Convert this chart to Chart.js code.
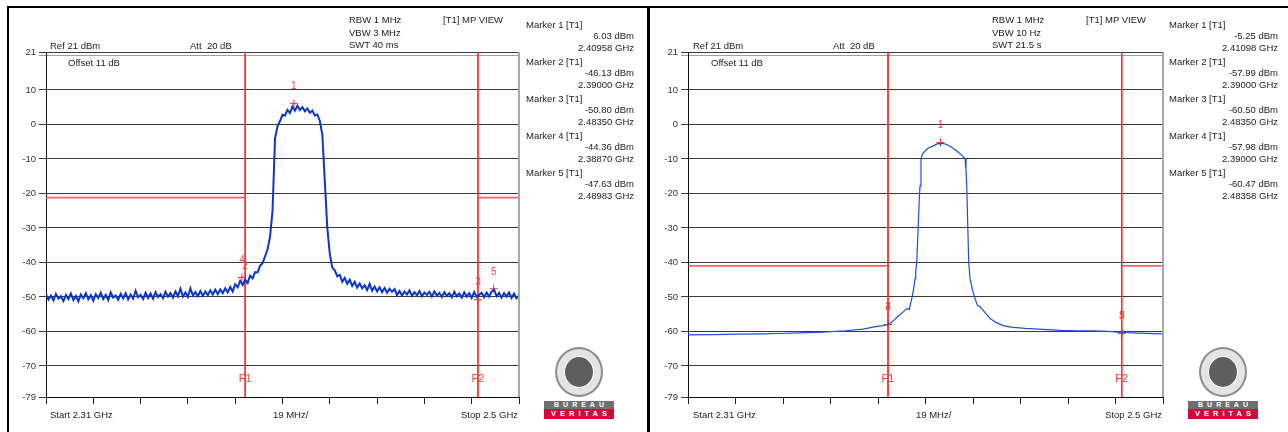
<!DOCTYPE html>
<html>
<head>
<meta charset="utf-8">
<script src="https://cdn.jsdelivr.net/npm/chart.js@4.4.1/dist/chart.umd.min.js"></script>
<style>
  html, body { margin: 0; padding: 0; background: #fff; }
  body { width: 1288px; height: 432px; position: relative; overflow: hidden;
         font-family: "Liberation Sans", Arial, sans-serif; font-size: 9.5px; color: #222; }
  .t { position: absolute; white-space: nowrap; line-height: 12px; }
  canvas { position: absolute; top: 0; }
  .fv { position: absolute; top: 6px; bottom: 0; background: #000; }
  .fh { position: absolute; top: 6px; height: 2px; left: 7px; right: 0; background: #000; }
  .seal { position: absolute; width: 44px; height: 46px; border-radius: 50%; border: 2px solid #8c8c8c; background: #e4e4e4; }
  .seal div { position: absolute; left: 7px; top: 7px; width: 28px; height: 30px; border-radius: 50%; background: #5e5e5e; border: 1px solid #fff; }
  .bar { position: absolute; width: 70px; color: #fff; font-weight: bold; text-align: center; letter-spacing: 4px; text-indent: 4px; }
  .b1 { height: 8px; line-height: 8px; font-size: 7px; background: #6f6f6f; }
  .b2 { height: 10px; line-height: 10px; font-size: 7.5px; background: #d10a3c; }
</style>
</head>
<body>
<div class="fh"></div>
<div class="fv" style="left:7px;width:2px"></div>
<div class="fv" style="left:647px;width:3px"></div>

<canvas id="spec-left" width="640" height="432" style="left:0"></canvas>
<canvas id="spec-right" width="646" height="432" style="left:642px"></canvas>

<div id="texts"></div>

<script>
const START = 2310, STOP = 2500, F1 = 2390, F2 = 2483.5

const xTicks = [2310, 2329, 2348, 2367, 2386, 2405, 2424, 2443, 2462, 2481, 2500]
const yTicks = [21, 20, 10, 0, -10, -20, -30, -40, -50, -60, -70, -79]

// left sweep: max-hold trace, one value per MHz from 2310 to 2500
const leftLevel = [
  -49.2, -50.8, -49.6, -51.0, -49.1, -50.5, -49.8, -51.2, -49.4, -50.6,
  -49.0, -50.9, -49.7, -51.3, -49.3, -50.4, -48.9, -50.7, -49.5, -51.1,
  -49.2, -50.3, -48.8, -50.6, -49.4, -50.9, -48.7, -50.2, -49.6, -50.8,
  -49.1, -50.4, -48.9, -50.7, -49.3, -50.5, -48.2, -50.1, -49.4, -50.6,
  -48.8, -50.3, -49.0, -50.5, -48.6, -50.0, -49.2, -50.4, -48.5, -49.9,
  -48.9, -50.2, -48.4, -49.8, -47.6, -49.9, -48.7, -50.0, -47.5, -49.6,
  -48.6, -49.8, -48.3, -49.7, -48.4, -49.5, -48.1, -49.3, -47.9, -49.2,
  -47.8, -48.9, -47.5, -48.7, -47.1, -48.4, -46.3, -47.2, -45.3, -46.5,
  -45.0, -45.9, -43.8, -44.6, -42.8, -42.9, -41.0, -40.2, -38.2, -36.2,
  -32.5, -25.0, -4.0, -0.5, 1.0, 2.8, 2.6, 4.2, 3.3, 5.2,
  4.0, 5.4, 4.2, 5.0, 3.8, 4.6, 3.4, 4.0, 2.6, 2.9,
  1.0, -3.0, -16.5, -30.0, -37.5, -41.5, -42.3, -44.0, -43.6, -45.6,
  -44.5, -46.2, -45.0, -46.8, -45.6, -47.3, -46.1, -47.5, -46.6, -48.0,
  -46.2, -48.2, -47.0, -48.4, -47.2, -48.6, -47.4, -48.8, -47.6, -48.5,
  -47.7, -49.5, -48.3, -49.6, -48.4, -49.3, -48.1, -49.7, -48.6, -49.5,
  -48.3, -49.8, -48.7, -49.4, -48.5, -49.9, -48.4, -49.6, -48.8, -50.0,
  -48.6, -49.7, -48.9, -50.1, -48.5, -49.8, -49.0, -50.2, -48.7, -49.9,
  -48.9, -50.3, -48.6, -50.0, -49.4, -48.8, -50.1, -48.7, -49.9, -48.4,
  -47.9, -49.8, -48.8, -50.2, -48.9, -49.9, -48.7, -50.3, -49.0, -50.4, -49.6
]
const leftFreq = leftLevel.map((_, i) => START + i)

// right sweep: averaged trace (VBW 10 Hz)
const rightFreq = [
  2310, 2320, 2330, 2340, 2346, 2355, 2364, 2373, 2380, 2385,
  2388, 2390, 2392, 2394, 2396, 2397.5, 2398.5, 2399.5, 2400.3, 2400.8,
  2401.1, 2401.5, 2402.1, 2402.5, 2402.8, 2403.2, 2403.8, 2404.8, 2406, 2408.1,
  2409.5, 2410.5, 2411, 2411.5, 2413.5, 2415.5, 2417.5, 2419.5, 2420.8, 2421.2,
  2421.5, 2421.9, 2422.3, 2422.8, 2423.8, 2424.8, 2425.8, 2426.8, 2428, 2430.8,
  2433, 2436, 2440, 2445, 2452, 2459, 2466, 2472, 2478, 2483.4,
  2490, 2500
]
const rightLevel = [
  -61.0, -60.9, -60.8, -60.7, -60.6, -60.4, -60.2, -59.8, -59.3, -58.6,
  -58.3, -58.0, -57.0, -55.6, -54.4, -53.3, -53.6, -50.5, -47.5, -44.7,
  -42.5, -40.0, -29.3, -22.0, -17.8, -10.0, -8.6, -7.7, -6.9, -6.2,
  -5.7, -5.4, -5.9, -5.4, -5.8, -6.6, -7.7, -8.9, -9.9, -13.0,
  -17.8, -29.3, -40.0, -44.7, -48.0, -50.4, -52.5, -52.8, -53.8, -56.2,
  -57.3, -58.3, -58.8, -59.1, -59.4, -59.7, -59.8, -59.8, -60.0, -60.3,
  -60.5, -60.7
]

const leftMarkerFreq  = [2409.58, 2390.00, 2483.50, 2388.70, 2489.83]
const leftMarkerLevel = [6.03, -46.13, -50.80, -44.36, -47.63]
const rightMarkerFreq  = [2410.98, 2390.00, 2483.50, 2390.00, 2483.58]
const rightMarkerLevel = [-5.25, -57.99, -60.50, -57.98, -60.47]

const leftLimit = -21.2
const rightLimit = -41

Chart.defaults.font.family = '"Liberation Sans", Arial, sans-serif'
Chart.defaults.font.size = 9.5

const RED = '#ff2a2a'
const LIMIT = 'rgba(255,70,70,0.85)'

// marker numbers, F1/F2 tags and right frame edge
const annot = {
  id: 'annot',
  afterDatasetsDraw(chart, args, opts) {
    const { ctx, chartArea: a, scales: { x, y } } = chart
    ctx.save()
    ctx.strokeStyle = '#a8a8a8'
    ctx.lineWidth = 2
    ctx.beginPath()
    ctx.moveTo(a.right, a.top)
    ctx.lineTo(a.right, a.bottom)
    ctx.stroke()
    ctx.fillStyle = '#ff3b3b'
    ctx.textAlign = 'center'
    ctx.textBaseline = 'middle'
    ctx.font = '10px "Liberation Sans", Arial'
    opts.freq.forEach((f, i) => {
      ctx.fillText(String(i + 1), x.getPixelForValue(f), y.getPixelForValue(opts.level[i]) - 17)
    })
    ctx.font = '11px "Liberation Sans", Arial'
    ctx.fillText('F1', x.getPixelForValue(F1), a.bottom - 18)
    ctx.fillText('F2', x.getPixelForValue(F2), a.bottom - 18)
    ctx.restore()
  }
}

function line(points, color, width) {
  return { data: points, borderColor: color, borderWidth: width, pointRadius: 0, tension: 0, fill: false }
}

function spectrum(id, o) {
  const trace = o.freq.map((f, i) => ({ x: f, y: o.level[i] }))
  const markers = o.mFreq.map((f, i) => ({ x: f, y: o.mLevel[i] }))
  return new Chart(document.getElementById(id), {
    type: 'line',
    data: {
      datasets: [
        line(trace, o.color, o.width),
        line([{ x: START, y: o.limit }, { x: F1, y: o.limit }], LIMIT, 1.6),
        line([{ x: F2, y: o.limit }, { x: STOP, y: o.limit }], LIMIT, 1.6),
        line([{ x: F1, y: 21 }, { x: F1, y: -79 }], RED, 1),
        line([{ x: F2, y: 21 }, { x: F2, y: -79 }], RED, 1),
        { data: markers, showLine: false, pointStyle: 'cross', pointRadius: 4, borderColor: RED, borderWidth: 1 }
      ]
    },
    options: {
      responsive: false, animation: false,
      layout: { padding: { left: 0, right: o.padRight, top: 52, bottom: 0 } },
      plugins: {
        legend: { display: false }, tooltip: { enabled: false },
        annot: { freq: o.mFreq, level: o.mLevel }
      },
      scales: {
        x: {
          type: 'linear', min: START, max: STOP,
          afterBuildTicks: s => { s.ticks = xTicks.map(v => ({ value: v })) },
          afterFit: s => { s.height = 35 },
          grid: { drawOnChartArea: false, tickLength: 7, color: '#222' },
          border: { color: '#111' },
          ticks: { callback: () => '', autoSkip: false }
        },
        y: {
          min: -79, max: 21,
          afterBuildTicks: s => { s.ticks = yTicks.map(v => ({ value: v })) },
          afterFit: s => { s.width = 46 },
          grid: { color: c => (c.tick && c.tick.value === 20) ? '#a0a0a0' : '#3a3a3a', tickLength: 7 },
          border: { color: '#111' },
          ticks: { autoSkip: false, padding: 3, color: '#333', callback: v => v === 20 ? '' : String(v) }
        }
      }
    },
    plugins: [annot]
  })
}

spectrum('spec-left', {
  freq: leftFreq, level: leftLevel, color: '#0b36c8', width: 2,
  limit: leftLimit, mFreq: leftMarkerFreq, mLevel: leftMarkerLevel, padRight: 121
})
spectrum('spec-right', {
  freq: rightFreq, level: rightLevel, color: '#1f4fd6', width: 1.2,
  limit: rightLimit, mFreq: rightMarkerFreq, mLevel: rightMarkerLevel, padRight: 125
})

function t(x, y, s, right) {
  return right
    ? `<div class="t" style="right:${1288 - x}px;top:${y}px">${s}</div>`
    : `<div class="t" style="left:${x}px;top:${y}px">${s}</div>`
}

function panelTexts(p) {
  let h = ''
  h += t(p.ox + 50, 39.5, 'Ref 21 dBm')
  h += t(p.ox + 190, 39.5, 'Att&nbsp; 20 dB')
  h += t(p.ox + 68, 57, 'Offset 11 dB')
  p.setup.forEach((s, i) => { h += t(p.ox + 349, 14 + i * 12.5, s) })
  h += t(p.ox + 443, 13.5, '[T1] MP VIEW')
  p.mFreq.forEach((f, i) => {
    const top = 19 + i * 37
    h += t(p.ox + 526, top, `Marker ${i + 1} [T1]`)
    h += t(p.valRight, top + 11, `${p.mLevel[i].toFixed(2)} dBm`, true)
    h += t(p.valRight, top + 23, `${(f / 1000).toFixed(5)} GHz`, true)
  })
  h += t(p.ox + 50, 409, 'Start 2.31 GHz')
  h += t(p.ox + 273, 409, '19 MHz/')
  h += t(p.stopRight, 409, 'Stop 2.5 GHz', true)
  h += `<div class="seal" style="left:${p.seal}px;top:347px"><div></div></div>`
  h += `<div class="bar b1" style="left:${p.bar}px;top:400.5px">BUREAU</div>`
  h += `<div class="bar b2" style="left:${p.bar}px;top:408.5px">VERITAS</div>`
  return h
}

document.getElementById('texts').innerHTML =
  panelTexts({ ox: 0, setup: ['RBW 1 MHz', 'VBW 3 MHz', 'SWT 40 ms'], mFreq: leftMarkerFreq, mLevel: leftMarkerLevel,
               valRight: 634, stopRight: 518, seal: 555, bar: 544 }) +
  panelTexts({ ox: 643, setup: ['RBW 1 MHz', 'VBW 10 Hz', 'SWT 21.5 s'], mFreq: rightMarkerFreq, mLevel: rightMarkerLevel,
               valRight: 1278, stopRight: 1162, seal: 1199, bar: 1188 })
</script>
</body>
</html>
